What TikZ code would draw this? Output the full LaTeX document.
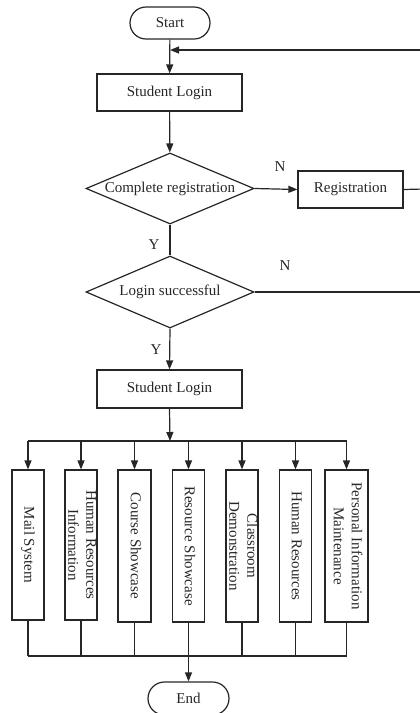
\documentclass[tikz,border=0pt]{standalone}
\usepackage{fontspec}
\setmainfont{Liberation Serif}
\usetikzlibrary{shapes.geometric,shapes.misc,arrows.meta}
\begin{document}
\begin{tikzpicture}[x=1pt,y=-1pt,
  every node/.style={font=\fontsize{15}{18}\selectfont, text=black!85},
  ln/.style={draw=black!85, line width=1.2pt},
  arr/.style={ln, -{Triangle[length=9pt,width=7pt]}},
  procbox/.style={ln, rectangle, inner sep=0pt},
  term/.style={ln, rounded rectangle, inner sep=0pt, minimum width=80pt, minimum height=32pt},
  decide/.style={ln, diamond, aspect=2.37, inner sep=0pt, minimum width=168pt, minimum height=71pt},
  vbox/.style={ln, rectangle, inner sep=0pt, minimum width=32pt},
  lbl/.style={inner sep=0pt}
]
\clip (0,0) rectangle (420,713);
\node[term] (start) at (170,23) {Start};
\node[procbox, minimum width=145pt, minimum height=37pt] (login1) at (169.5,92.5) {Student Login};
\node[decide] (reg) at (170,188.5) {Complete registration};
\node[procbox, minimum width=105pt, minimum height=37pt] (regbox) at (350.5,189.5) {Registration};
\node[decide, minimum height=72pt] (succ) at (170,292) {Login successful};
\node[procbox, minimum width=145pt, minimum height=38pt] (login2) at (169.5,389) {Student Login};

\newcommand{\vtxt}[1]{\makebox[0pt]{\rotatebox{-90}{\begin{tabular}{@{}c@{}}#1\end{tabular}}}}
\node[vbox, minimum height=150pt] (b1) at (28,545) {\vtxt{Mail System}};
\node[vbox, minimum height=150pt] (b2) at (81,545) {\vtxt{Human Resources\\Information}};
\node[vbox, minimum height=152pt, minimum width=33pt] (b3) at (134.5,546) {\vtxt{Course Showcase}};
\node[vbox, minimum height=152pt] (b4) at (188.5,546) {\vtxt{Resource Showcase}};
\node[vbox, minimum height=152pt] (b5) at (242,546) {\vtxt{Classroom\\Demonstration}};
\node[vbox, minimum height=152pt] (b6) at (295.5,546) {\vtxt{Human Resources}};
\node[vbox, minimum height=152pt, minimum width=43pt] (b7) at (346.5,546) {\vtxt{Personal Information\\Maintenance}};

\node[term, minimum width=81pt, minimum height=33pt] (endn) at (188.5,698.5) {End};

\node[lbl] at (280,167) {N};
\node[lbl] at (285,266) {N};
\node[lbl] at (154,245) {Y};
\node[lbl] at (156,350) {Y};

% coordinates
\coordinate (fb) at (170,50);
\coordinate (busc) at (170,441);
\coordinate (busl) at (28,441);
\coordinate (busr) at (347,441);
\coordinate (botl) at (28,656);
\coordinate (botr) at (347,656);
\coordinate (botc) at (188.5,656);
\coordinate (rr) at (424,189);
\coordinate (rs) at (424,292);

% main flow
\draw[arr] (start) -- (login1);
\draw[arr] (login1) -- (reg);
\draw[arr] (reg.east) -- (regbox.west);
\draw[ln] (reg.south) -- (succ.north);
\draw[arr] (succ.south) -- (login2.north);
\draw[ln] (regbox.east) -- (rr);
\draw[ln] (succ.east) -- (rs);
\draw[arr] (rr) |- (fb);

% bus
\draw[arr] (login2.south) -- (busc);
\draw[ln] (busl) -- (busr);
\foreach \b in {b1,b2,b3,b4,b5,b6,b7}{
  \draw[arr] (\b.north |- busc) -- (\b.north);
  \draw[ln] (\b.south) -- (\b.south |- botc);
}
\draw[ln] (botl) -- (botr);
\draw[arr] (botc) -- (endn.north);
\end{tikzpicture}
\end{document}
